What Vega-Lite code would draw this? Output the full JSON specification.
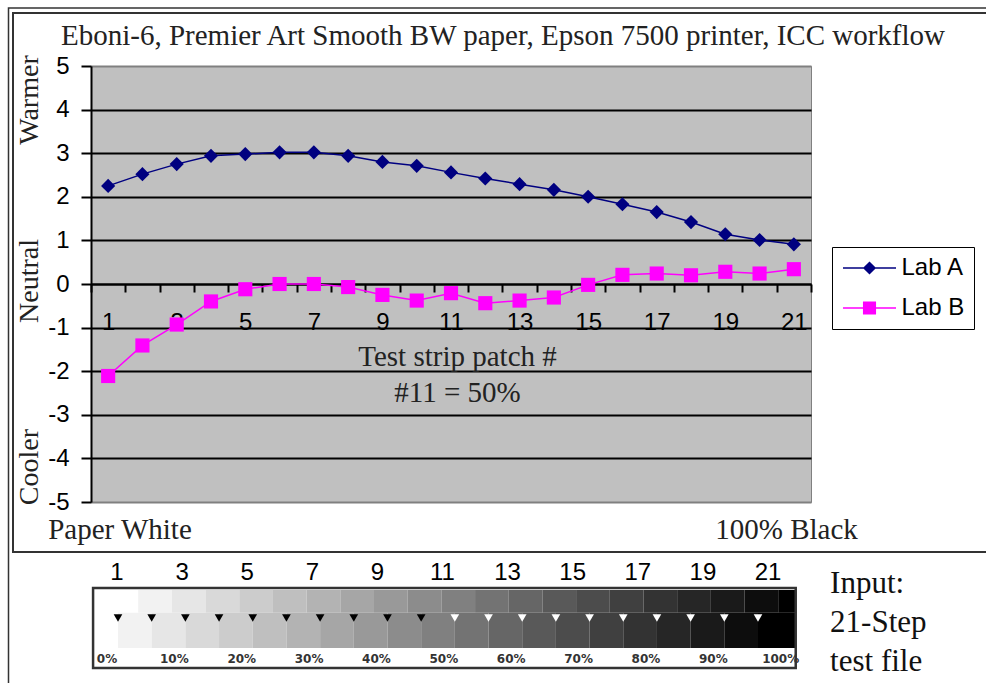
{
  "$schema": "https://vega.github.io/schema/vega-lite/v6.json",
  "width": 720,
  "height": 436,
  "autosize": {"type": "none"},
  "padding": {"left": 91, "top": 66, "right": 175, "bottom": 181},
  "background": "white",
  "title": {
    "text": "Eboni-6, Premier Art Smooth BW paper, Epson 7500 printer, ICC workflow",
    "anchor": "middle",
    "frame": "group",
    "dx": 52,
    "offset": -67,
    "baseline": "alphabetic",
    "font": "Liberation Serif",
    "fontSize": 29,
    "fontWeight": "normal",
    "color": "#222222"
  },
  "config": {
    "view": {"fill": "#C0C0C0", "stroke": "#808080", "strokeWidth": 1}
  },
  "datasets": {
    "lab": [
      {"n": 1, "s": "Lab A", "v": 2.25}, {"n": 2, "s": "Lab A", "v": 2.52}, {"n": 3, "s": "Lab A", "v": 2.75},
      {"n": 4, "s": "Lab A", "v": 2.94}, {"n": 5, "s": "Lab A", "v": 2.98}, {"n": 6, "s": "Lab A", "v": 3.02},
      {"n": 7, "s": "Lab A", "v": 3.02}, {"n": 8, "s": "Lab A", "v": 2.94}, {"n": 9, "s": "Lab A", "v": 2.80},
      {"n": 10, "s": "Lab A", "v": 2.71}, {"n": 11, "s": "Lab A", "v": 2.56}, {"n": 12, "s": "Lab A", "v": 2.42},
      {"n": 13, "s": "Lab A", "v": 2.29}, {"n": 14, "s": "Lab A", "v": 2.16}, {"n": 15, "s": "Lab A", "v": 2.00},
      {"n": 16, "s": "Lab A", "v": 1.83}, {"n": 17, "s": "Lab A", "v": 1.65}, {"n": 18, "s": "Lab A", "v": 1.42},
      {"n": 19, "s": "Lab A", "v": 1.14}, {"n": 20, "s": "Lab A", "v": 1.01}, {"n": 21, "s": "Lab A", "v": 0.91},
      {"n": 1, "s": "Lab B", "v": -2.11}, {"n": 2, "s": "Lab B", "v": -1.41}, {"n": 3, "s": "Lab B", "v": -0.93},
      {"n": 4, "s": "Lab B", "v": -0.40}, {"n": 5, "s": "Lab B", "v": -0.12}, {"n": 6, "s": "Lab B", "v": 0.0},
      {"n": 7, "s": "Lab B", "v": 0.0}, {"n": 8, "s": "Lab B", "v": -0.07}, {"n": 9, "s": "Lab B", "v": -0.25},
      {"n": 10, "s": "Lab B", "v": -0.38}, {"n": 11, "s": "Lab B", "v": -0.21}, {"n": 12, "s": "Lab B", "v": -0.44},
      {"n": 13, "s": "Lab B", "v": -0.38}, {"n": 14, "s": "Lab B", "v": -0.31}, {"n": 15, "s": "Lab B", "v": -0.02},
      {"n": 16, "s": "Lab B", "v": 0.21}, {"n": 17, "s": "Lab B", "v": 0.24}, {"n": 18, "s": "Lab B", "v": 0.20},
      {"n": 19, "s": "Lab B", "v": 0.28}, {"n": 20, "s": "Lab B", "v": 0.24}, {"n": 21, "s": "Lab B", "v": 0.34}
    ],
    "bottomRow": [
      {"level": 0, "lo": -3.7, "hi": 0}, {"level": 5, "lo": 0, "hi": 5}, {"level": 10, "lo": 5, "hi": 10},
      {"level": 15, "lo": 10, "hi": 15}, {"level": 20, "lo": 15, "hi": 20}, {"level": 25, "lo": 20, "hi": 25},
      {"level": 30, "lo": 25, "hi": 30}, {"level": 35, "lo": 30, "hi": 35}, {"level": 40, "lo": 35, "hi": 40},
      {"level": 45, "lo": 40, "hi": 45}, {"level": 50, "lo": 45, "hi": 50}, {"level": 55, "lo": 50, "hi": 55},
      {"level": 60, "lo": 55, "hi": 60}, {"level": 65, "lo": 60, "hi": 65}, {"level": 70, "lo": 65, "hi": 70},
      {"level": 75, "lo": 70, "hi": 75}, {"level": 80, "lo": 75, "hi": 80}, {"level": 85, "lo": 80, "hi": 85},
      {"level": 90, "lo": 85, "hi": 90}, {"level": 95, "lo": 90, "hi": 95}, {"level": 100, "lo": 95, "hi": 100.6}
    ],
    "topRow": [
      {"level": 0, "lo": -3.7, "hi": 3}, {"level": 5, "lo": 3, "hi": 8}, {"level": 10, "lo": 8, "hi": 13},
      {"level": 15, "lo": 13, "hi": 18}, {"level": 20, "lo": 18, "hi": 23}, {"level": 25, "lo": 23, "hi": 28},
      {"level": 30, "lo": 28, "hi": 33}, {"level": 35, "lo": 33, "hi": 38}, {"level": 40, "lo": 38, "hi": 43},
      {"level": 45, "lo": 43, "hi": 48}, {"level": 50, "lo": 48, "hi": 53}, {"level": 55, "lo": 53, "hi": 58},
      {"level": 60, "lo": 58, "hi": 63}, {"level": 65, "lo": 63, "hi": 68}, {"level": 70, "lo": 68, "hi": 73},
      {"level": 75, "lo": 73, "hi": 78}, {"level": 80, "lo": 78, "hi": 83}, {"level": 85, "lo": 83, "hi": 88},
      {"level": 90, "lo": 88, "hi": 93}, {"level": 95, "lo": 93, "hi": 98}, {"level": 100, "lo": 98, "hi": 100.6}
    ]
  },
  "layer": [
    {
      "data": {"name": "lab"},
      "encoding": {
        "x": {
          "field": "n", "type": "ordinal",
          "scale": {"type": "band", "paddingInner": 0, "paddingOuter": 0, "domain": [1,2,3,4,5,6,7,8,9,10,11,12,13,14,15,16,17,18,19,20,21]},
          "axis": {
            "orient": "bottom", "offset": -218, "tickBand": "extent",
            "domainColor": "black", "domainWidth": 2, "tickColor": "black", "tickWidth": 2, "tickSize": 8,
            "labelExpr": "datum.value % 2 == 1 ? datum.label : ''", "labelOverlap": false,
            "labelFont": "Liberation Sans", "labelFontSize": 24, "labelColor": "black", "labelPadding": 18, "labelAngle": 0,
            "grid": false,
            "title": ["Test strip patch #", "#11 = 50%"],
            "titleFont": "Liberation Serif", "titleFontSize": 29, "titleFontWeight": "normal", "titleColor": "#222222",
            "titleLineHeight": 36, "titleX": 366, "titleY": 72, "titleBaseline": "middle", "titleAlign": "center"
          }
        },
        "y": {
          "field": "v", "type": "quantitative",
          "scale": {"domain": [-5, 5], "nice": false, "zero": false},
          "axis": {
            "values": [-5,-4,-3,-2,-1,0,1,2,3,4,5],
            "labelExpr": "replace(datum.label, '\u2212', '-')",
            "domainColor": "black", "domainWidth": 2, "tickColor": "black", "tickWidth": 2, "tickSize": 10,
            "labelFont": "Liberation Sans", "labelFontSize": 24, "labelColor": "black", "labelPadding": 12,
            "grid": true, "gridWidth": 2,
            "gridColor": {"condition": {"test": "datum.value === 5 || datum.value === -5", "value": "#808080"}, "value": "black"},
            "title": null
          }
        }
      },
      "layer": [
        {
          "mark": {"type": "line", "strokeWidth": 1.5},
          "encoding": {
            "color": {
              "field": "s", "type": "nominal",
              "scale": {"domain": ["Lab A", "Lab B"], "range": ["#000080", "#FF00FF"]},
              "legend": {
                "orient": "none", "legendX": 741, "legendY": 181, "title": null,
                "padding": 9, "strokeColor": "black",
                "labelFont": "Liberation Sans", "labelFontSize": 24, "labelColor": "black",
                "symbolSize": 400, "symbolOffset": 16.5, "labelOffset": 20, "rowPadding": 16,
                "encode": {
                  "symbols": {
                    "update": {
                      "shape": {"signal": "datum.value === 'Lab A' ? 'M-2.65,0L2.65,0M0,-0.55L0.55,0L0,0.55L-0.55,0Z' : 'M-2.65,0L2.65,0M-0.58,-0.58L0.58,-0.58L0.58,0.58L-0.58,0.58Z'"},
                      "stroke": {"signal": "datum.value === 'Lab A' ? '#000080' : '#FF00FF'"},
                      "fill": {"signal": "datum.value === 'Lab A' ? '#000080' : '#FF00FF'"},
                      "strokeWidth": {"value": 1.5},
                      "size": {"value": 400},
                      "opacity": {"value": 1}
                    }
                  }
                }
              }
            }
          }
        },
        {
          "mark": {"type": "point", "filled": true, "size": 200, "opacity": 1},
          "encoding": {
            "color": {"field": "s", "type": "nominal"},
            "shape": {"field": "s", "type": "nominal", "scale": {"domain": ["Lab A", "Lab B"], "range": ["diamond", "square"]}, "legend": null}
          }
        },
        {
          "data": {"values": [
            {"label": "Warmer", "n": 1, "v": 4.22},
            {"label": "Neutral", "n": 1, "v": 0.07},
            {"label": "Cooler", "n": 1, "v": -4.2}
          ]},
          "mark": {"type": "text", "angle": 270, "dy": -78, "align": "center", "baseline": "middle", "font": "Liberation Serif", "fontSize": 28, "color": "#222222"},
          "encoding": {"text": {"field": "label"}}
        },
        {
          "data": {"values": [{"label": "Paper White", "n": 1, "v": -5.65}]},
          "mark": {"type": "text", "align": "left", "baseline": "middle", "dx": -60, "font": "Liberation Serif", "fontSize": 29, "color": "#222222"},
          "encoding": {"text": {"field": "label"}}
        },
        {
          "data": {"values": [{"label": "100% Black", "n": 21, "v": -5.65}]},
          "mark": {"type": "text", "align": "right", "baseline": "middle", "dx": 64, "font": "Liberation Serif", "fontSize": 29, "color": "#222222"},
          "encoding": {"text": {"field": "label"}}
        }
      ]
    },
    {
      "layer": [
        {
          "data": {"name": "topRow"},
          "mark": {"type": "rect"},
          "encoding": {
            "x": {"field": "lo", "type": "quantitative", "scale": {"domain": [0, 95], "range": [27, 667], "nice": false, "zero": false}, "axis": null},
            "x2": {"field": "hi"},
            "y": {"datum": 97.5, "type": "quantitative", "scale": {"domain": [0, 100], "range": [602, 522], "nice": false, "zero": false}, "axis": null},
            "y2": {"datum": 69},
            "fill": {"field": "level", "type": "quantitative", "scale": {"domain": [0, 100], "range": ["#ffffff", "#000000"], "interpolate": "rgb"}, "legend": null}
          }
        },
        {
          "data": {"name": "bottomRow"},
          "mark": {"type": "rect"},
          "encoding": {
            "x": {"field": "lo", "type": "quantitative", "axis": null},
            "x2": {"field": "hi"},
            "y": {"datum": 69, "type": "quantitative", "axis": null},
            "y2": {"datum": 25},
            "fill": {"field": "level", "type": "quantitative", "legend": null}
          }
        },
        {
          "data": {"values": [
            {"p": 0}, {"p": 5}, {"p": 10}, {"p": 15}, {"p": 20}, {"p": 25}, {"p": 30}, {"p": 35}, {"p": 40}, {"p": 45},
            {"p": 50}, {"p": 55}, {"p": 60}, {"p": 65}, {"p": 70}, {"p": 75}, {"p": 80}, {"p": 85}, {"p": 90}, {"p": 95}
          ]},
          "mark": {"type": "point", "shape": "triangle-down", "filled": true, "size": 75, "opacity": 1},
          "encoding": {
            "x": {"field": "p", "type": "quantitative", "axis": null},
            "y": {"datum": 62.5, "type": "quantitative", "axis": null},
            "color": {"condition": {"test": "datum.p < 50", "value": "black"}, "value": "white"}
          }
        },
        {
          "data": {"values": [
            {"pct": 0, "t": "0%"}, {"pct": 10, "t": "10%"}, {"pct": 20, "t": "20%"}, {"pct": 30, "t": "30%"},
            {"pct": 40, "t": "40%"}, {"pct": 50, "t": "50%"}, {"pct": 60, "t": "60%"}, {"pct": 70, "t": "70%"},
            {"pct": 80, "t": "80%"}, {"pct": 90, "t": "90%"}, {"pct": 100, "t": "100%"}
          ]},
          "mark": {"type": "text", "dx": -11, "align": "center", "baseline": "middle", "font": "DejaVu Sans", "fontWeight": "bold", "fontSize": 12, "color": "#333333"},
          "encoding": {
            "x": {"field": "pct", "type": "quantitative", "axis": null},
            "y": {"datum": 11, "type": "quantitative", "axis": null},
            "text": {"field": "t"}
          }
        },
        {
          "data": {"values": [{"k": "box"}]},
          "mark": {"type": "rect", "fillOpacity": 0, "stroke": "#333333", "strokeWidth": 2.5},
          "encoding": {
            "x": {"datum": -3.7, "type": "quantitative", "axis": null},
            "x2": {"datum": 100.6},
            "y": {"datum": 0, "type": "quantitative", "axis": null},
            "y2": {"datum": 100}
          }
        },
        {
          "data": {"values": [{"t": ["Input:", "21-Step", "test file"]}]},
          "mark": {"type": "text", "align": "left", "baseline": "middle", "lineHeight": 39, "font": "Liberation Serif", "fontSize": 31, "color": "#111111"},
          "encoding": {
            "x": {"datum": 105.7, "type": "quantitative", "axis": null},
            "y": {"datum": 105, "type": "quantitative", "axis": null},
            "text": {"field": "t"}
          }
        }
      ]
    },
    {
      "data": {"values": [{"n": 1}, {"n": 3}, {"n": 5}, {"n": 7}, {"n": 9}, {"n": 11}, {"n": 13}, {"n": 15}, {"n": 17}, {"n": 19}, {"n": 21}]},
      "mark": {"type": "text", "align": "center", "baseline": "middle", "font": "Liberation Sans", "fontSize": 24, "color": "black"},
      "encoding": {
        "x": {"field": "n", "type": "quantitative", "scale": {"domain": [1, 21], "range": [26, 677], "nice": false, "zero": false}, "axis": null},
        "y": {"datum": 118.75, "type": "quantitative", "scale": {"domain": [0, 100], "range": [602, 522], "nice": false, "zero": false}, "axis": null},
        "text": {"field": "n", "type": "quantitative"}
      }
    },
    {
      "data": {"values": [{"a": 0, "b": 1}]},
      "mark": {"type": "rect", "fillOpacity": 0, "stroke": "#333333", "strokeWidth": 2},
      "encoding": {
        "x": {"field": "a", "type": "quantitative", "scale": {"domain": [0, 1], "range": [-78, 1100], "nice": false}, "axis": null},
        "x2": {"field": "b"},
        "y": {"field": "a", "type": "quantitative", "scale": {"domain": [0, 1], "range": [486, -53], "nice": false}, "axis": null},
        "y2": {"field": "b"}
      }
    },
    {
      "data": {"values": [{"a": 0, "b": 1}]},
      "mark": {"type": "rect", "fillOpacity": 0, "stroke": "#333333", "strokeWidth": 1.5},
      "encoding": {
        "x": {"field": "a", "type": "quantitative", "scale": {"domain": [0, 1], "range": [-82.5, 1100], "nice": false}, "axis": null},
        "x2": {"field": "b"},
        "y": {"field": "a", "type": "quantitative", "scale": {"domain": [0, 1], "range": [700, -58], "nice": false}, "axis": null},
        "y2": {"field": "b"}
      }
    }
  ],
  "resolve": {
    "scale": {"x": "independent", "y": "independent", "color": "independent"},
    "axis": {"x": "independent", "y": "independent"}
  }
}
